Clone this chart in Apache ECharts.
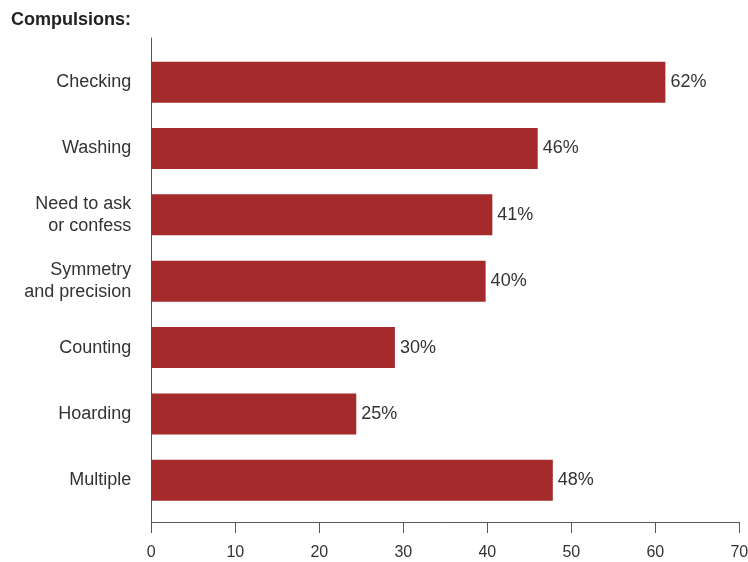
<!DOCTYPE html>
<html>
<head>
<meta charset="utf-8">
<script src="https://cdn.jsdelivr.net/npm/echarts@6/dist/echarts.min.js"></script>
<style>
html,body{margin:0;padding:0;background:#fff;}
#chart{width:748px;height:562px;}
</style>
</head>
<body>
<div id="chart"></div>
<script>
// ---- data ----
var categories = ['Checking', 'Washing', 'Need to ask\nor confess', 'Symmetry\nand precision', 'Counting', 'Hoarding', 'Multiple'];
var barValues = [61.2, 46.0, 40.6, 39.8, 29.0, 24.4, 47.8];      // bar lengths as drawn
var pctLabels = ['62%', '46%', '41%', '40%', '30%', '25%', '48%']; // printed value labels
var xTicks = [0, 10, 20, 30, 40, 50, 60, 70];
var titleText = 'Compulsions:';

var font = '"Liberation Sans", Arial, Helvetica, sans-serif';
var axisColor = '#555555';
var barColor = '#a42a2b';

var chart = echarts.init(document.getElementById('chart'), null, {renderer: 'canvas'});
chart.setOption({
  animation: false,
  backgroundColor: '#ffffff',
  title: {
    text: titleText,
    left: 11, top: 11, padding: 0,
    textStyle: {fontFamily: font, fontSize: 18, fontWeight: 'bold', color: '#222222'}
  },
  grid: [
    {left: 151.3, right: 8.7, top: 49, bottom: 48.6, containLabel: false, outerBoundsMode: 'none'},
    {left: 151.3, right: 8.7, top: 38, bottom: 40, containLabel: false, outerBoundsMode: 'none'}
  ],
  xAxis: [
    {gridIndex: 0, type: 'value', min: xTicks[0], max: xTicks[xTicks.length - 1], show: false},
    {
      gridIndex: 1, type: 'value',
      min: xTicks[0], max: xTicks[xTicks.length - 1], interval: xTicks[1] - xTicks[0],
      axisLine: {show: true, lineStyle: {color: axisColor, width: 1}},
      axisTick: {show: true, length: 11, lineStyle: {color: axisColor, width: 1}},
      splitLine: {show: false},
      axisLabel: {margin: 23, fontFamily: font, fontSize: 16, color: '#333333'}
    }
  ],
  yAxis: [
    {
      gridIndex: 0, type: 'category', inverse: true, data: categories,
      axisLine: {show: false}, axisTick: {show: false},
      axisLabel: {margin: 20, fontFamily: font, fontSize: 18, lineHeight: 22, color: '#333333', align: 'right'}
    },
    {
      gridIndex: 1, type: 'category', data: categories,
      axisLine: {show: true, lineStyle: {color: axisColor, width: 1}},
      axisTick: {show: false}, axisLabel: {show: false}, splitLine: {show: false}
    }
  ],
  series: [{
    type: 'bar',
    xAxisIndex: 0, yAxisIndex: 0,
    data: barValues,
    barWidth: 41,
    itemStyle: {color: barColor},
    label: {
      show: true, position: 'right', distance: 5,
      fontFamily: font, fontSize: 18, color: '#333333',
      formatter: function (p) { return pctLabels[p.dataIndex]; }
    }
  }]
});
</script>
</body>
</html>
